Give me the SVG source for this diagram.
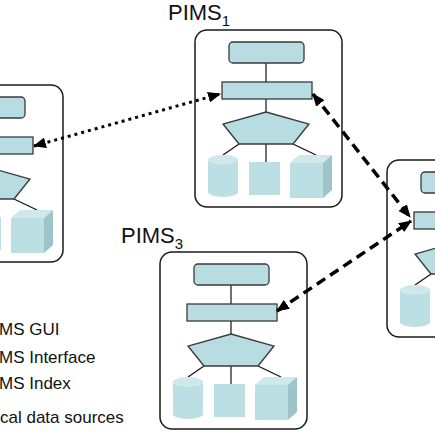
<svg xmlns="http://www.w3.org/2000/svg" xmlns:xlink="http://www.w3.org/1999/xlink" width="435" height="435" viewBox="0 0 435 435">
<style>
.box{fill:#fff;stroke:#1a1a1a;stroke-width:1.5}
.comp{fill:#b7dce1;stroke:#3a3a3a;stroke-width:1.3}
.ln{stroke:#111;stroke-width:1.2;fill:none}
.ds{fill:#bcdfe3}
.dstop{fill:#cfe8eb}
.dsside{fill:#9ec4c9}
.lbl{font-family:"Liberation Sans",Arial,sans-serif;fill:#111}
.dot{fill:none;stroke:#000;stroke-width:3;stroke-dasharray:3 4}
.dash{fill:none;stroke:#000;stroke-width:3.5;stroke-dasharray:10 6}
</style>
<defs>
<marker id="ah" viewBox="0 0 12 10" refX="11" refY="5" markerWidth="13" markerHeight="11" markerUnits="userSpaceOnUse" orient="auto-start-reverse">
<path d="M0,0 L12,5 L0,10 z" fill="#000"/>
</marker>
<g id="pims">
<rect class="box" x="0" y="0" width="147" height="177" rx="12"/>
<line class="ln" x1="71" y1="33" x2="71" y2="52"/>
<line class="ln" x1="71" y1="69" x2="71" y2="82"/>
<line class="ln" x1="44" y1="114" x2="28" y2="125"/>
<line class="ln" x1="71" y1="114" x2="71" y2="132"/>
<line class="ln" x1="98" y1="114" x2="121" y2="125"/>
<rect class="comp" x="34" y="12" width="75" height="21" rx="4"/>
<rect class="comp" x="27" y="52" width="90" height="17"/>
<polygon class="comp" points="71,82 114,94 98,114 44,114 28,94"/>
<rect class="ds" x="13" y="130" width="30" height="32"/>
<ellipse class="ds" cx="28" cy="162" rx="15" ry="5"/>
<ellipse class="dstop" cx="28" cy="130" rx="15" ry="5"/>
<rect class="ds" x="54" y="132" width="31" height="33"/>
<rect class="ds" x="95" y="133" width="33" height="35"/>
<polygon class="dstop" points="95,133 104,125 137,125 128,133"/>
<polygon class="dsside" points="128,133 137,125 137,160 128,168"/>
</g>
</defs>
<g id="pims1"><use xlink:href="#pims" href="#pims" transform="translate(195,30)"/></g>
<g id="pims3"><use xlink:href="#pims" href="#pims" transform="translate(160,252)"/></g>
<g id="pims-left"><use xlink:href="#pims" href="#pims" transform="translate(-84,85)"/></g>
<g id="pims-right"><use xlink:href="#pims" href="#pims" transform="translate(387,160)"/></g>
<g id="labels">
<text class="lbl" x="168" y="20" font-size="22">PIMS<tspan font-size="15" dy="6">1</tspan></text>
<text class="lbl" x="121" y="243" font-size="22">PIMS<tspan font-size="15" dy="6">3</tspan></text>
</g>
<g id="legend">
<text class="lbl" x="-1" y="335" font-size="17">MS GUI</text>
<text class="lbl" x="-1" y="363" font-size="17">MS Interface</text>
<text class="lbl" x="-1" y="389" font-size="17">MS Index</text>
<text class="lbl" x="0" y="423" font-size="17">cal data sources</text>
</g>
<g id="connectors">
<line class="dot" x1="34" y1="146" x2="220" y2="94" marker-start="url(#ah)" marker-end="url(#ah)"/>
<line class="dash" x1="313" y1="94" x2="410" y2="217" marker-start="url(#ah)" marker-end="url(#ah)"/>
<line class="dash" x1="277" y1="311" x2="411" y2="221" marker-start="url(#ah)" marker-end="url(#ah)"/>
</g>
</svg>
